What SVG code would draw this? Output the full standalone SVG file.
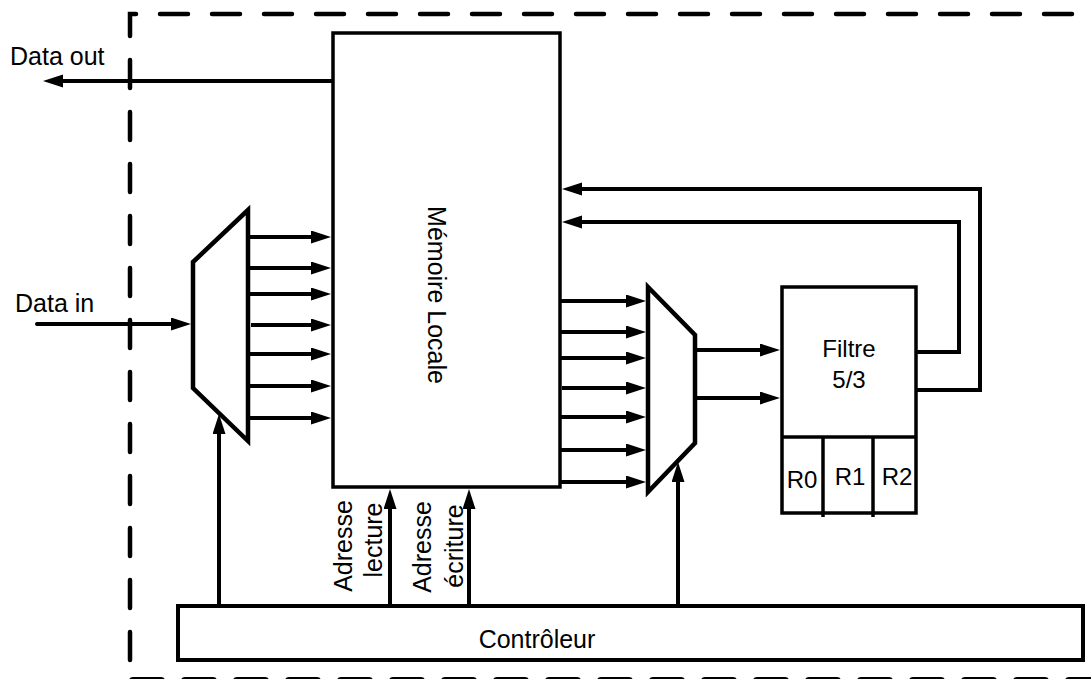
<svg xmlns="http://www.w3.org/2000/svg" width="1091" height="679" viewBox="0 0 1091 679">
<style>
  text { font-family: "Liberation Sans", Arial, sans-serif; font-size: 25px; fill: #000; }
  .box { fill: #fff; stroke: #000; stroke-width: 3.5; }
  .mux { fill: #fff; stroke: #000; stroke-width: 4.5; stroke-linejoin: miter; }
  .w { fill: none; stroke: #000; stroke-width: 4; }
  .a { fill: none; stroke: #000; stroke-width: 4; marker-end: url(#ah); }
  .dash { fill: none; stroke: #000; stroke-width: 4.5; stroke-linecap: round; stroke-dasharray: 28 24; }
  .mid { text-anchor: middle; }
</style>
<defs>
  <marker id="ah" markerUnits="userSpaceOnUse" markerWidth="22" markerHeight="14" refX="10" refY="6.5" orient="auto">
    <path d="M0,0 L20,6.5 L0,13 z" fill="#000"/>
  </marker>
</defs>
<rect width="1091" height="679" fill="#fff"/>

<g id="border">
  <path class="dash" d="M130,660 V14 H1100"/>
  <path class="dash" d="M133,681 H1100" style="stroke-width:8"/>
</g>

<g id="memoire">
  <rect class="box" x="333" y="33" width="227" height="454"/>
  <text class="mid" transform="translate(428,295) rotate(90)">Mémoire Locale</text>
</g>

<g id="mux1">
  <polygon class="mux" points="248,210 193,262 193,388 248,441"/>
</g>

<g id="mux2">
  <polygon class="mux" points="648,287 695,335 695,443 648,492"/>
</g>

<g id="filtre">
  <rect class="box" x="782" y="287" width="134" height="226"/>
  <text class="mid" x="849" y="357" style="font-size:24px">Filtre</text>
  <text class="mid" x="849" y="388" style="font-size:24px">5/3</text>
  <line class="w" x1="782" y1="437" x2="916" y2="437" style="stroke-width:3.5"/>
  <line class="w" x1="823" y1="437" x2="823" y2="517" style="stroke-width:3.5"/>
  <line class="w" x1="873" y1="437" x2="873" y2="517" style="stroke-width:3.5"/>
  <text class="mid" x="802" y="488" style="font-size:24px">R0</text>
  <text class="mid" x="850" y="485" style="font-size:24px">R1</text>
  <text class="mid" x="897" y="485" style="font-size:24px">R2</text>
</g>

<g id="controleur">
  <rect class="box" x="178" y="606" width="905" height="54" style="stroke-width:4"/>
  <text class="mid" x="537" y="648">Contrôleur</text>
</g>

<g id="labels">
  <text x="10" y="65">Data out</text>
  <text x="15" y="312">Data in</text>
  <text class="mid" transform="translate(352,546) rotate(-90)">Adresse</text>
  <text class="mid" transform="translate(382,540) rotate(-90)">lecture</text>
  <text class="mid" transform="translate(431,547) rotate(-90)">Adresse</text>
  <text class="mid" transform="translate(463,546) rotate(-90)">écriture</text>
</g>

<g id="connectors">
  <line class="a" x1="333" y1="81" x2="53" y2="81"/>
  <line class="a" x1="37" y1="324" x2="181" y2="324" style="stroke-linecap:round"/>
  <line class="a" x1="248" y1="237" x2="321" y2="237"/>
  <line class="a" x1="248" y1="268" x2="321" y2="268"/>
  <line class="a" x1="248" y1="294" x2="321" y2="294"/>
  <line class="a" x1="251" y1="325" x2="321" y2="325"/>
  <line class="a" x1="248" y1="354" x2="321" y2="354"/>
  <line class="a" x1="248" y1="386" x2="321" y2="386"/>
  <line class="a" x1="248" y1="418" x2="321" y2="418"/>
  <line class="a" x1="560" y1="301" x2="636" y2="301"/>
  <line class="a" x1="560" y1="332" x2="636" y2="332"/>
  <line class="a" x1="560" y1="358" x2="636" y2="358"/>
  <line class="a" x1="562" y1="388" x2="636" y2="388"/>
  <line class="a" x1="560" y1="417" x2="636" y2="417"/>
  <line class="a" x1="560" y1="450" x2="636" y2="450"/>
  <line class="a" x1="560" y1="482" x2="636" y2="482"/>
  <line class="a" x1="695" y1="350" x2="770" y2="350"/>
  <line class="a" x1="695" y1="398" x2="770" y2="398"/>
  <polyline class="a" points="916,352 959,352 959,222 572,222"/>
  <polyline class="a" points="916,390 980,390 980,189 572,189"/>
  <line class="a" x1="219" y1="606" x2="219" y2="424"/>
  <line class="a" x1="390" y1="606" x2="390" y2="499"/>
  <line class="a" x1="469" y1="606" x2="469" y2="499"/>
  <line class="a" x1="678" y1="606" x2="678" y2="472"/>
</g>
</svg>
